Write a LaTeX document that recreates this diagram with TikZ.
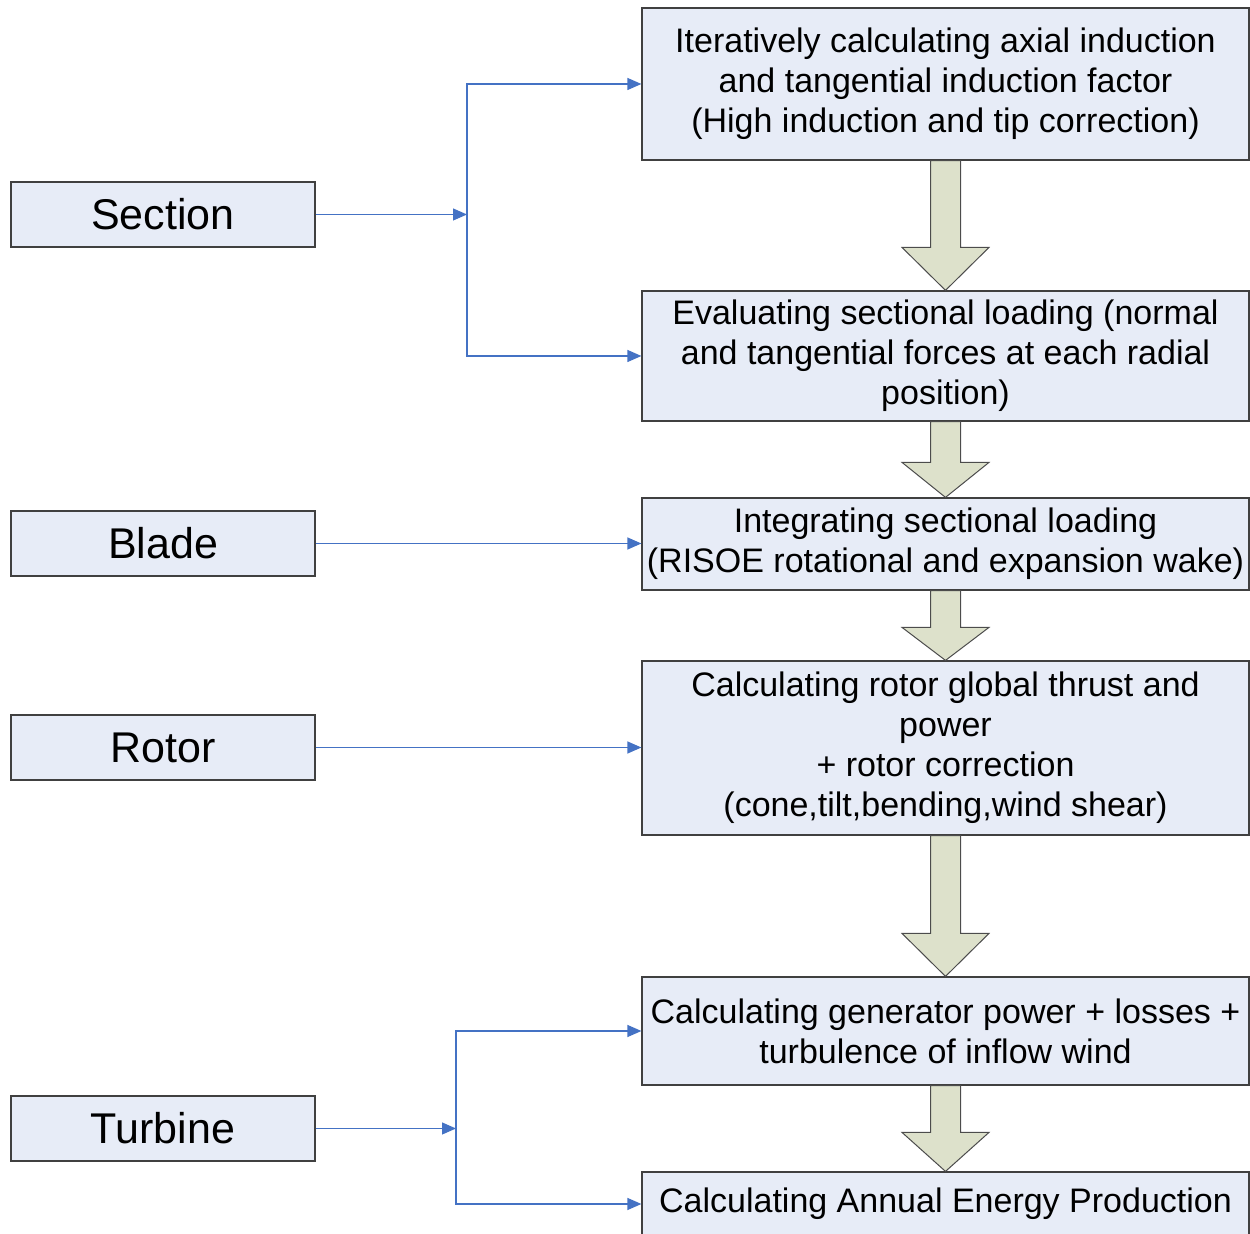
\documentclass[tikz,border=0pt]{standalone}
\usepackage{fontspec}
\setmainfont{Liberation Sans}
\usetikzlibrary{arrows.meta,positioning,calc}

\definecolor{boxfill}{RGB}{231,236,247}
\definecolor{linkblue}{RGB}{68,114,196}
\definecolor{arrowfill}{RGB}{221,225,203}

\begin{document}
\begin{tikzpicture}[
        x=0.5pt, y=-0.5pt,
        level/.style={rectangle, minimum width=152pt, minimum height=32.5pt,
            text centered, draw=black!75, line width=0.6pt, fill=boxfill,
            font=\fontsize{21.5}{25}\selectfont, inner sep=0pt},
        process/.style={rectangle, minimum width=303.5pt, align=center,
            draw=black!75, line width=0.6pt, fill=boxfill,
            font=\fontsize{17}{20}\selectfont, inner sep=0pt},
        link/.style={draw=linkblue, line width=0.6pt,
            -{Triangle[length=7pt, width=6pt]}},
        blockarrow/.style={draw=black!70, line width=0.5pt, fill=arrowfill},
    ]
        \useasboundingbox (0,0) rectangle (1250,1234);

        % steps on the right
        \node (b1) [process, minimum height=76pt] at (945.5,84)
            {Iteratively calculating axial induction\\
             and tangential induction factor\\
             (High induction and tip correction)};
        \node (b2) [process, minimum height=65pt] at (945.5,356)
            {Evaluating sectional loading (normal\\
             and tangential forces at each radial\\
             position)};
        \node (b3) [process, minimum height=46pt] at (945.5,544)
            {Integrating sectional loading\\
             (RISOE rotational and expansion wake)};
        \node (b4) [process, minimum height=87pt] at (945.5,748)
            {Calculating rotor global thrust and\\
             power\\
             + rotor correction\\
             (cone,tilt,bending,wind shear)};
        \node (b5) [process, minimum height=54pt] at (945.5,1031)
            {Calculating generator power + losses +\\
             turbulence of inflow wind};
        \node (b6) [process, minimum height=32pt] at (945.5,1204)
            {Calculating Annual Energy Production};

        % levels on the left
        \node (section) [level] at (163,214.5) {Section};
        \node (blade) [level] at (163,543.5) {Blade};
        \node (rotor) [level] at (163,747.5) {Rotor};
        \node (turbine) [level] at (163,1128.5) {Turbine};

        \coordinate (secsplit) at (467,214.5);
        \coordinate (turbsplit) at (456,1128.5);

        \draw [link] (section) -- (secsplit);
        \draw [link] (secsplit) |- (b1.west);
        \draw [link] (secsplit) |- (b2.west);
        \draw [link] (blade) -- (b3.west |- blade);
        \draw [link] (rotor) -- (b4.west |- rotor);
        \draw [link] (turbine) -- (turbsplit);
        \draw [link] (turbsplit) |- (b5.west);
        \draw [link] (turbsplit) |- (b6.west);

        % block arrows between steps
        \foreach \a/\b/\h in {b1/b2/21.5, b2/b3/17.5, b3/b4/16.5, b4/b5/21.5, b5/b6/19.5}
            \draw [blockarrow] let \p1=(\a.south), \p2=(\b.north) in
                (\x1-7.5pt,\y1) -- (\x1-7.5pt,\y2+\h pt) -- (\x1-21.75pt,\y2+\h pt)
                -- (\x1,\y2) -- (\x1+21.75pt,\y2+\h pt) -- (\x1+7.5pt,\y2+\h pt)
                -- (\x1+7.5pt,\y1) -- cycle;
    \end{tikzpicture}
\end{document}
